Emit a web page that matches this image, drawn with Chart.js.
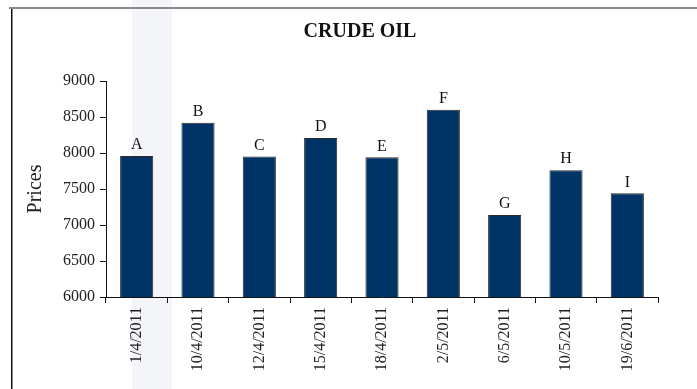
<!DOCTYPE html>
<html>
<head>
<meta charset="utf-8">
<script src="https://cdn.jsdelivr.net/npm/chart.js@4"></script>
<style>
  html, body { margin: 0; padding: 0; background: #fff; }
  #wrap { position: relative; width: 697px; height: 389px; }
</style>
</head>
<body>
<div id="wrap"><canvas id="chart" width="697" height="389"></canvas></div>
<script>
const titleText = 'CRUDE OIL';
const dates = ['1/4/2011', '10/4/2011', '12/4/2011', '15/4/2011', '18/4/2011', '2/5/2011', '6/5/2011', '10/5/2011', '19/6/2011'];
const letters = ['A', 'B', 'C', 'D', 'E', 'F', 'G', 'H', 'I'];
const prices = [7960, 8420, 7950, 8210, 7940, 8600, 7140, 7760, 7440];

const serif = '"Liberation Serif", "Times New Roman", serif';

// page frame + light band behind the first column
const backdrop = {
  id: 'backdrop',
  beforeDraw(chart) {
    const ctx = chart.ctx;
    ctx.save();
    ctx.fillStyle = '#f4f5f8';
    ctx.fillRect(132, 0, 40, 389);
    ctx.fillStyle = '#8a8a8a';
    ctx.fillRect(9, 7, 688, 2);
    ctx.fillStyle = '#111';
    ctx.fillRect(11, 9, 1.5, 380);
    ctx.restore();
  }
};

// chart title + letter over each bar
const labels = {
  id: 'labels',
  afterDatasetsDraw(chart) {
    const ctx = chart.ctx;
    ctx.save();
    ctx.fillStyle = '#111';
    ctx.textAlign = 'center';
    ctx.font = 'bold 20px ' + serif;
    ctx.textBaseline = 'middle';
    ctx.fillText(titleText, 360, 32);
    ctx.font = '16px ' + serif;
    ctx.textBaseline = 'bottom';
    chart.getDatasetMeta(0).data.forEach((bar, i) => {
      ctx.fillText(letters[i], bar.x, bar.y - 3);
    });
    ctx.restore();
  }
};

new Chart(document.getElementById('chart'), {
  type: 'bar',
  data: {
    labels: dates,
    datasets: [{
      data: prices,
      backgroundColor: '#003366',
      borderColor: '#2a2a2a',
      borderWidth: 1,
      barPercentage: 0.54,
      categoryPercentage: 1
    }]
  },
  plugins: [backdrop, labels],
  options: {
    responsive: false,
    animation: false,
    layout: { padding: { left: 0, right: 39, top: 81, bottom: 0 } },
    plugins: { legend: { display: false }, title: { display: false }, tooltip: { enabled: false } },
    scales: {
      x: {
        grid: { drawOnChartArea: false, color: '#111', tickLength: 6, offset: true },
        border: { color: '#111', width: 1 },
        ticks: {
          color: '#222', font: { family: serif, size: 16 },
          minRotation: 90, maxRotation: 90, padding: 4, autoSkip: false
        },
        afterFit(scale) { scale.height = 92; }
      },
      y: {
        min: 6000, max: 9000,
        grid: { drawOnChartArea: false, color: '#111', tickLength: 6 },
        border: { color: '#111', width: 1 },
        ticks: {
          stepSize: 500, color: '#222', font: { family: serif, size: 16 }, padding: 5,
          callback: v => String(v)
        },
        title: { display: true, text: 'Prices', color: '#222', font: { family: serif, size: 20 }, padding: { top: 24, bottom: 0 } },
        afterFit(scale) { scale.width = 106; }
      }
    }
  }
});
</script>
</body>
</html>
